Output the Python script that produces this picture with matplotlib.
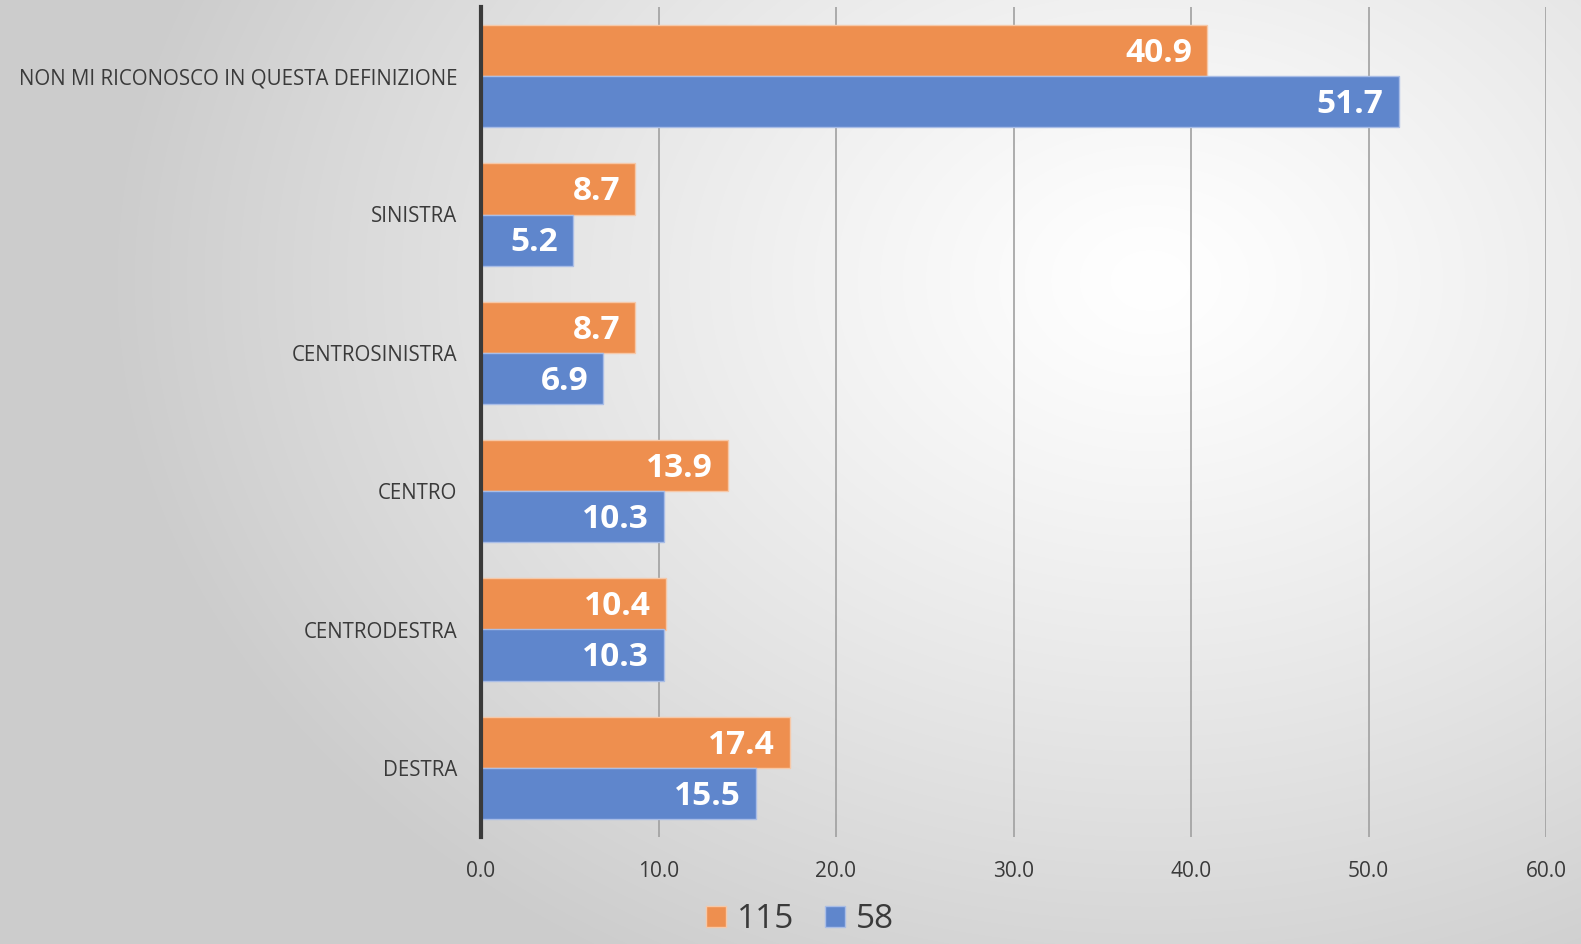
import numpy as np
import matplotlib.pyplot as plt
from matplotlib.patches import Patch

# data
categories = [
    "NON MI RICONOSCO IN QUESTA DEFINIZIONE",
    "SINISTRA",
    "CENTROSINISTRA",
    "CENTRO",
    "CENTRODESTRA",
    "DESTRA",
]
series_names = ["115", "58"]
values_115 = [40.9, 8.7, 8.7, 13.9, 10.4, 17.4]
values_58 = [51.7, 5.2, 6.9, 10.3, 10.3, 15.5]
x_ticks = [0, 10, 20, 30, 40, 50, 60]

orange = "#EE8F4F"
blue = "#5F86CC"
txt = "#3a3a3a"

W, H = 1581, 944
fig = plt.figure(figsize=(W / 100, H / 100), dpi=100)

# radial grey background (rgb floats, no colormap banding)
bg = fig.add_axes([0, 0, 1, 1])
yy, xx = np.mgrid[0:H, 0:W]
r = np.sqrt(((xx - 1150) / 1050.0) ** 2 + ((yy - 280) / 800.0) ** 2)
shade = 1.0 - 0.2 * np.clip(r, 0, 1.0) ** 1.2
rgb = np.dstack([shade, shade, shade])
bg.imshow(rgb, aspect="auto", extent=[0, W, H, 0], interpolation="bilinear")
bg.axis("off")
bg.set_zorder(-10)

ax = fig.add_axes([481 / W, 1 - 837 / H, (1546 - 481) / W, (837 - 7) / H])
ax.patch.set_alpha(0)

y = np.arange(len(categories))
h = 0.37
b1 = ax.barh(y - h / 2, values_115, height=h, color=orange,
             edgecolor="#f6c8a8", linewidth=1, zorder=3)
b2 = ax.barh(y + h / 2, values_58, height=h, color=blue,
             edgecolor="#a9bde6", linewidth=1, zorder=3)

for bars, vals in ((b1, values_115), (b2, values_58)):
    for rect, v in zip(bars, vals):
        ax.text(v - 0.85, rect.get_y() + rect.get_height() / 2 + 0.02,
                f"{v:.1f}", ha="right", va="center", color="white",
                fontsize=24, fontweight="bold", family="Open Sans", zorder=4)

ax.set_ylim(len(categories) - 0.5, -0.5)
ax.set_xlim(0, 60)
ax.set_yticks(y)
ax.set_yticklabels(categories, family="Open Sans", fontsize=14.8, color=txt)
ax.set_xticks(x_ticks)
ax.set_xticklabels([f"{t:.1f}" for t in x_ticks], family="Open Sans",
                   fontsize=15, color=txt)
ax.tick_params(axis="both", length=0)
ax.tick_params(axis="x", pad=17)
ax.tick_params(axis="y", pad=17)

ax.grid(axis="x", color="#a0a0a0", linewidth=1.2, zorder=0)
for s in ["top", "right", "bottom"]:
    ax.spines[s].set_visible(False)
ax.spines["left"].set_color("#3a3a3a")
ax.spines["left"].set_linewidth(3)
ax.spines["left"].set_zorder(5)

handles = [Patch(facecolor=orange, edgecolor="#f6c8a8"),
           Patch(facecolor=blue, edgecolor="#a9bde6")]
fig.legend(handles, series_names, loc="center", bbox_to_anchor=(0.506, 0.026),
           ncol=2, frameon=False, prop={"family": "Open Sans", "size": 24},
           handlelength=0.6, handleheight=0.6, handletextpad=0.35,
           columnspacing=0.9, labelcolor=txt)

fig.savefig("out.png", dpi=100)
